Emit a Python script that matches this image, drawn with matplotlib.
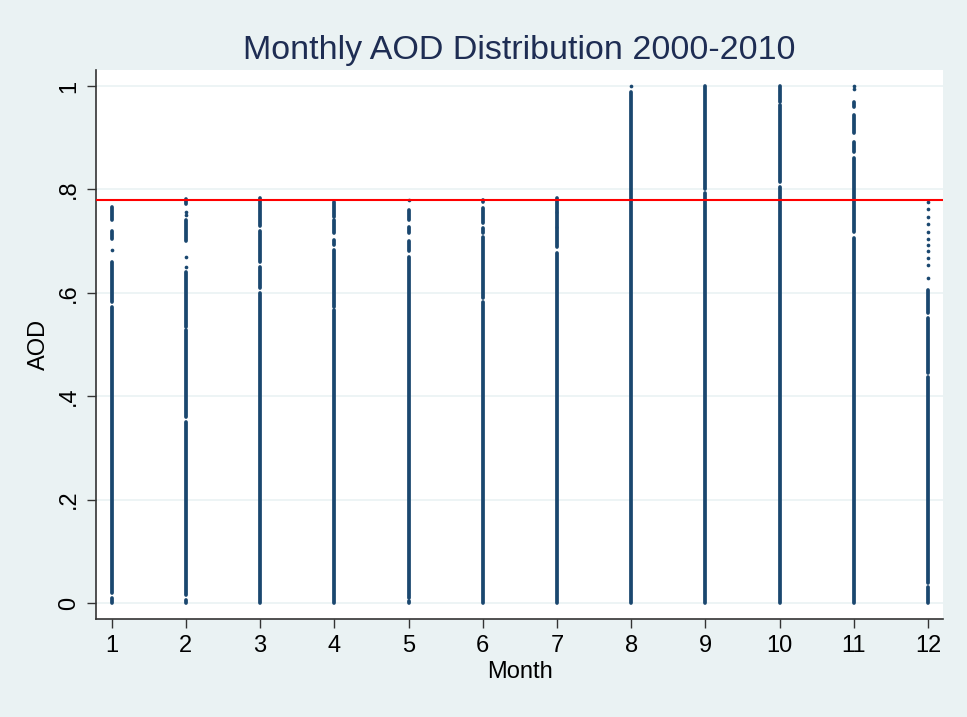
import matplotlib
matplotlib.use("Agg")
import matplotlib.pyplot as plt

# months on the x axis
months = [1, 2, 3, 4, 5, 6, 7, 8, 9, 10, 11, 12]

# AOD values: solid runs of points (lo, hi) and isolated points
m1_runs = [(0.0, 0.01), (0.02, 0.573), (0.582, 0.66), (0.705, 0.72), (0.741, 0.766)]
m1_dots = [0.683]
m2_runs = [(0.0, 0.006), (0.015, 0.35), (0.36, 0.528), (0.534, 0.64), (0.70, 0.74), (0.772, 0.782)]
m2_dots = [0.75, 0.756, 0.67, 0.65]
m3_runs = [(0.0, 0.60), (0.61, 0.65), (0.66, 0.72), (0.73, 0.783)]
m3_dots = []
m4_runs = [(0.0, 0.567), (0.573, 0.683), (0.692, 0.702), (0.715, 0.74), (0.747, 0.776)]
m4_dots = []
m5_runs = [(0.0, 0.003), (0.01, 0.67), (0.68, 0.70), (0.716, 0.727), (0.74, 0.76)]
m5_dots = [0.78]
m6_runs = [(0.0, 0.582), (0.59, 0.708), (0.716, 0.725), (0.735, 0.764), (0.775, 0.78)]
m6_dots = []
m7_runs = [(0.0, 0.677), (0.689, 0.725), (0.727, 0.754), (0.756, 0.783)]
m7_dots = []
m8_runs = [(0.0, 0.988)]
m8_dots = [1.0]
m9_runs = [(0.0, 0.793), (0.80, 1.0)]
m9_dots = []
m10_runs = [(0.0, 0.805), (0.814, 0.963), (0.969, 1.0)]
m10_dots = []
m11_runs = [(0.0, 0.706), (0.718, 0.861), (0.872, 0.892), (0.909, 0.944), (0.96, 0.969)]
m11_dots = [0.995, 1.0]
m12_runs = [(0.0, 0.03), (0.039, 0.437), (0.445, 0.551), (0.56, 0.605)]
m12_dots = [0.776, 0.763, 0.747, 0.734, 0.718, 0.705, 0.692, 0.680, 0.667, 0.654, 0.628]

runs = [m1_runs, m2_runs, m3_runs, m4_runs, m5_runs, m6_runs,
        m7_runs, m8_runs, m9_runs, m10_runs, m11_runs, m12_runs]
dots = [m1_dots, m2_dots, m3_dots, m4_dots, m5_dots, m6_dots,
        m7_dots, m8_dots, m9_dots, m10_dots, m11_dots, m12_dots]

threshold = 0.78
yticks = [0, 0.2, 0.4, 0.6, 0.8, 1.0]
ytick_labels = ["0", ".2", ".4", ".6", ".8", "1"]

navy = "#1a476f"
bg = "#eaf2f3"

plt.rcParams['font.family'] = ['Liberation Sans', 'DejaVu Sans']

fig = plt.figure(figsize=(9.67, 7.17), dpi=100, facecolor=bg)
ax = fig.add_axes([0.0993, 0.1367, 0.8759, 0.7657])
ax.set_facecolor("white")

# grid
for v in yticks:
    ax.axhline(v, color=bg, linewidth=1.2, zorder=0)

# points
for m, rr, dd in zip(months, runs, dots):
    lo = [r[0] for r in rr]
    hi = [r[1] for r in rr]
    lc = ax.vlines([m] * len(rr), lo, hi, color=navy, linewidth=2.7, zorder=2)
    lc.set_capstyle('round')
    if dd:
        ax.scatter([m] * len(dd), dd, s=7, color=navy, linewidths=0, zorder=2)

ax.axhline(threshold, color="red", linewidth=1.5, zorder=3)

ax.set_xlim(0.79, 12.2)
ax.set_ylim(-0.031, 1.031)
ax.set_xticks(months)
ax.set_xticklabels([str(m) for m in months])
ax.set_yticks(yticks)
ax.set_yticklabels(ytick_labels, rotation=90, va='center')

for s in ['top', 'right']:
    ax.spines[s].set_visible(False)
for s in ['left', 'bottom']:
    ax.spines[s].set_color("#333333")
    ax.spines[s].set_linewidth(1.2)

ax.tick_params(axis='both', direction='out', length=6.5, width=1, color="#333333",
               labelsize=17, pad=5)

ax.set_xlabel("Month", fontsize=17, labelpad=3)
ax.set_ylabel("AOD", fontsize=17, labelpad=6)
ax.set_title("Monthly AOD Distribution 2000-2010", fontsize=24.5, color="#1e2d53", pad=8)

fig.savefig("out.png", dpi=100, facecolor=bg)
